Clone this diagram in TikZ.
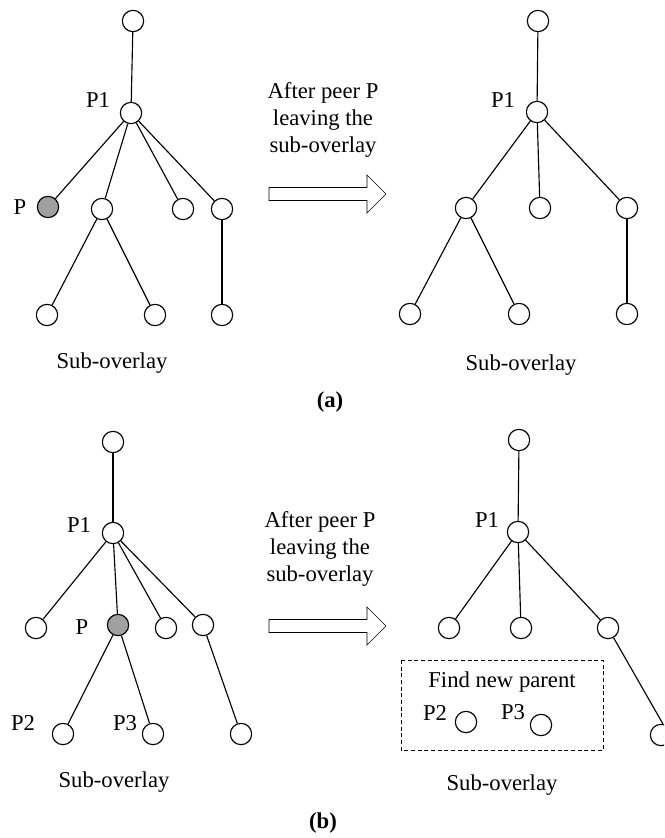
\documentclass[tikz,border=0pt]{standalone}
\usepackage{fontspec}
\setmainfont{Liberation Serif}
\definecolor{peergray}{RGB}{160,160,160}
\begin{document}
\begin{tikzpicture}[x=0.75pt,y=-0.75pt,
  peer/.style={circle,draw,line width=0.85pt,minimum size=16pt,inner sep=0pt,fill=white},
  gone/.style={peer,fill=peergray},
  lbl/.style={inner sep=0pt,font=\fontsize{17}{20.25}\selectfont},
  captext/.style={lbl,align=center},
  link/.style={line width=0.85pt},
  frame/.style={line width=0.6pt,dash pattern=on 3pt off 2pt},
  fatarrow/.pic={\draw[line width=0.5pt] (0,-6.5) -- (98,-6.5) -- (98,-19) -- (117,0) -- (98,19) -- (98,6.5) -- (0,6.5) -- cycle;}
]
\useasboundingbox (0,0) rectangle (664,838);
\clip (0,0) rectangle (664,838);

% ---------- (a) before ----------
\node[peer] (a-top) at (133,21) {};
\node[peer] (a-p1)  at (131,113) {};
\node[gone] (a-p)   at (48,207) {};
\node[peer] (a-m)   at (102,209) {};
\node[peer] (a-c)   at (183,209) {};
\node[peer] (a-d)   at (222,209) {};
\node[peer] (a-b1)  at (47,315) {};
\node[peer] (a-b2)  at (155,315) {};
\node[peer] (a-b3)  at (222,315) {};
\draw[link] (a-top) -- (a-p1);
\draw[link] (a-p1) -- (a-p);
\draw[link] (a-p1) -- (a-m);
\draw[link] (a-p1) -- (a-c);
\draw[link] (a-p1) -- (a-d);
\draw[link] (a-m) -- (a-b1);
\draw[link] (a-m) -- (a-b2);
\draw[link] (a-d) -- (a-b3);
\node[lbl] (a-lp1) at (98,100) {P1};
\node[lbl] (a-lp)  at (20,207) {P};
\node[lbl] (a-sub) at (112,363) {Sub-overlay};

\node[captext] (a-txt) at (323,120) {After peer P\\leaving the\\sub-overlay};
\pic at (269,194) {fatarrow};

% ---------- (a) after ----------
\node[peer] (ra-top) at (538,21) {};
\node[peer] (ra-p1)  at (537,112) {};
\node[peer] (ra-m)   at (466,208) {};
\node[peer] (ra-c)   at (540,208) {};
\node[peer] (ra-d)   at (627,208) {};
\node[peer] (ra-b1)  at (410,314) {};
\node[peer] (ra-b2)  at (519,314) {};
\node[peer] (ra-b3)  at (627,314) {};
\draw[link] (ra-top) -- (ra-p1);
\draw[link] (ra-p1) -- (ra-m);
\draw[link] (ra-p1) -- (ra-c);
\draw[link] (ra-p1) -- (ra-d);
\draw[link] (ra-m) -- (ra-b1);
\draw[link] (ra-m) -- (ra-b2);
\draw[link] (ra-d) -- (ra-b3);
\node[lbl] (ra-lp1) at (503,100) {P1};
\node[lbl] (ra-sub) at (521,365) {Sub-overlay};

\node[lbl,font=\fontsize{17}{20.25}\selectfont\bfseries] (a-tag) at (330,402) {(a)};

% ---------- (b) before ----------
\node[peer] (b-top) at (113,442) {};
\node[peer] (b-p1)  at (113,533) {};
\node[peer] (b-c1)  at (36,628) {};
\node[gone] (b-p)   at (118,625) {};
\node[peer] (b-c3)  at (166,628) {};
\node[peer] (b-d)   at (203,625) {};
\node[peer] (b-p2)  at (63,734) {};
\node[peer] (b-p3)  at (153,734) {};
\node[peer] (b-b3)  at (241,734) {};
\draw[link] (b-top) -- (b-p1);
\draw[link] (b-p1) -- (b-c1);
\draw[link] (b-p1) -- (b-p);
\draw[link] (b-p1) -- (b-c3);
\draw[link] (b-p1) -- (b-d);
\draw[link] (b-p) -- (b-p2);
\draw[link] (b-p) -- (b-p3);
\draw[link] (b-d) -- (b-b3);
\node[lbl] (b-lp1) at (79,525) {P1};
\node[lbl] (b-lp)  at (82,627) {P};
\node[lbl] (b-lp2) at (23,723) {P2};
\node[lbl] (b-lp3) at (125,723) {P3};
\node[lbl] (b-sub) at (114,782) {Sub-overlay};

\node[captext] (b-txt) at (320,549) {After peer P\\leaving the\\sub-overlay};
\pic at (269,626) {fatarrow};

% ---------- (b) after ----------
\node[peer] (rb-top) at (519,440) {};
\node[peer] (rb-p1)  at (518,532) {};
\node[peer] (rb-c1)  at (449,628) {};
\node[peer] (rb-c2)  at (521,628) {};
\node[peer] (rb-d)   at (608,628) {};
\node[peer] (rb-b3)  at (661,735) {};
\draw[link] (rb-top) -- (rb-p1);
\draw[link] (rb-p1) -- (rb-c1);
\draw[link] (rb-p1) -- (rb-c2);
\draw[link] (rb-p1) -- (rb-d);
\draw[link] (rb-d) -- (rb-b3.80);
\node[lbl] (rb-lp1) at (487,520) {P1};

\draw[frame] (401,660) rectangle (603,750);
\node[lbl] (rb-find) at (502,682) {Find new parent};
\node[peer] (rb-p2) at (466,722) {};
\node[peer] (rb-p3) at (541,725) {};
\node[lbl] (rb-lp2) at (435,713) {P2};
\node[lbl] (rb-lp3) at (513,712) {P3};
\node[lbl] (rb-sub) at (502,785) {Sub-overlay};

\node[lbl,font=\fontsize{17}{20.25}\selectfont\bfseries] (b-tag) at (323,823) {(b)};
\end{tikzpicture}
\end{document}
